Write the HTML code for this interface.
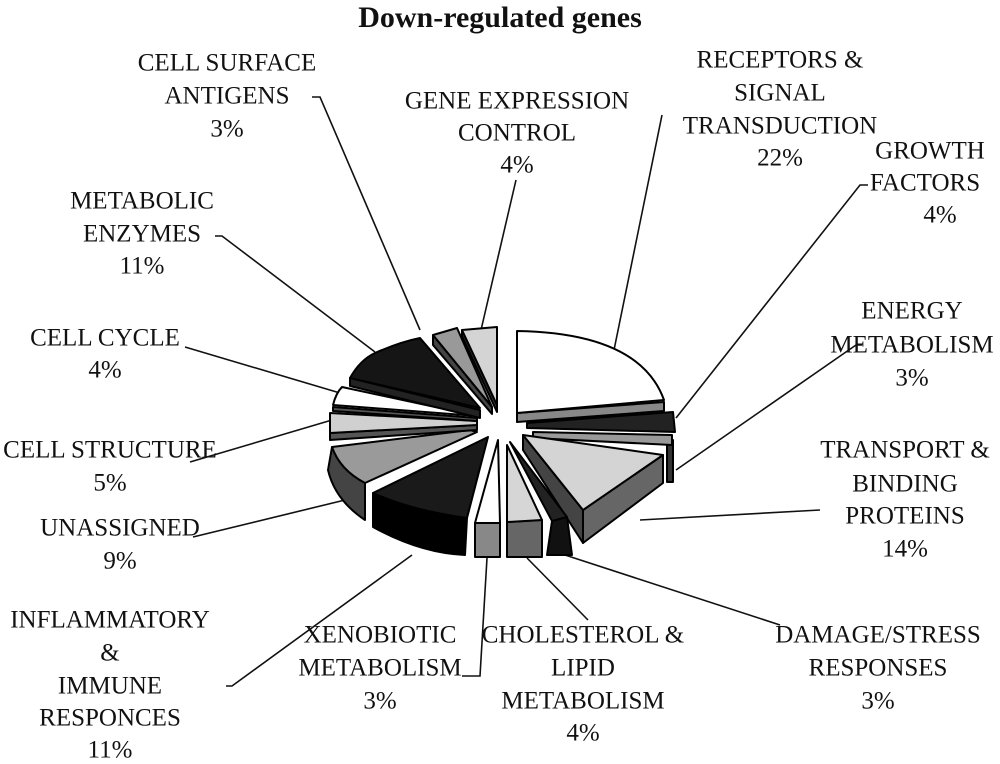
<!DOCTYPE html>
<html><head><meta charset="utf-8"><style>
html,body{margin:0;padding:0;background:#fff;}
svg{display:block;}
text{font-family:"Liberation Serif",serif;font-size:25px;fill:#111;text-anchor:middle;dominant-baseline:middle;}
</style></head><body>
<svg width="1000" height="764" viewBox="0 0 1000 764" xmlns="http://www.w3.org/2000/svg">
<text x="500" y="20" style="font-weight:bold;font-size:30px">Down-regulated genes</text>
<g stroke="#111" stroke-width="1.6" fill="none">
<polyline points="312,97 320,97 420,330"/>
<line x1="516" y1="180" x2="481" y2="330"/>
<line x1="662" y1="115" x2="614" y2="350"/>
<polyline points="868,185 860,185 676,418"/>
<polyline points="215,236 222,236 375,352"/>
<polyline points="862,345 856,345 676,470"/>
<line x1="185" y1="347" x2="340" y2="393"/>
<line x1="190" y1="462" x2="332" y2="420"/>
<line x1="820" y1="510" x2="640" y2="520"/>
<line x1="193" y1="537" x2="345" y2="500"/>
<polyline points="226,686 232,686 412,555"/>
<polyline points="462,676 480,676 487,558"/>
<line x1="588" y1="620" x2="527" y2="558"/>
<line x1="780" y1="625" x2="565" y2="555"/>
</g>
<g stroke="#000" stroke-width="2" stroke-linejoin="round">
<path d="M517,413 L664,402 L664,411 L517,422 Z" fill="#888"/>
<path d="M527,423 L673,412 L675,432 L527,428 Z" fill="#222"/>
<path d="M667,440 L673,440 L673,482 L667,482 Z" fill="#333"/>
<path d="M533,432 L672,435 L672,445 L533,438 Z" fill="#999"/>
<path d="M523,435 L583,510 L583,543 L523,450 Z" fill="#444"/>
<path d="M583,510 L663,455 L663,483 L583,543 Z" fill="#666"/>
<path d="M517,413 L517,331 Q640,333 664,400 Z" fill="#fff"/>
<path d="M523,435 L663,455 L583,510 Z" fill="#d4d4d4"/>
<path d="M552,521 L567,517 L572,555 L547,555 Z" fill="#111"/>
<path d="M510,442 L567,517 L552,521 Z" fill="#222"/>
<path d="M507,522 L542,520 L542,557 L507,557 Z" fill="#666"/>
<path d="M507,445 L542,520 L507,522 Z" fill="#d6d6d6"/>
<path d="M475,523 L500,523 L500,557 L475,557 Z" fill="#888"/>
<path d="M498,440 L500,523 L475,523 Z" fill="#fff"/>
<path d="M373,493 L467,518 L465,555 Q420,553 373,527 Z" fill="#000"/>
<path d="M488,437 L467,518 Q410,510 373,493 Z" fill="#1a1a1a"/>
<path d="M332,447 L365,483 L365,520 Q335,500 328,470 Z" fill="#444"/>
<path d="M477,432 L365,483 Q340,470 332,447 L470,430 Z" fill="#9a9a9a"/>
<path d="M330,433 L477,425 L477,430 L330,440 Z" fill="#555"/>
<path d="M477,425 L330,433 L330,413 L477,421 Z" fill="#d0d0d0"/>
<path d="M333,407 L477,418 L477,421 L333,411 Z" fill="#555"/>
<path d="M477,416 L333,405 Q336,393 342,387 Z" fill="#fff"/>
<path d="M350,378 L480,410 L480,418 L350,386 Z" fill="#222"/>
<path d="M480,408 L350,378 Q360,360 375,353 Q400,342 420,338 Z" fill="#151515"/>
<path d="M492,407 L433,335 L433,345 L492,414 Z" fill="#444"/>
<path d="M492,407 L433,335 L457,328 Z" fill="#999"/>
<path d="M497,405 L462,330 L462,336 L497,412 Z" fill="#333"/>
<path d="M497,405 L462,330 L497,327 Z" fill="#d4d4d4"/>
</g>
<text x="227" y="65">CELL SURFACE</text><text x="227" y="98">ANTIGENS</text><text x="227" y="131">3%</text>
<text x="517" y="103">GENE EXPRESSION</text><text x="517" y="135">CONTROL</text><text x="517" y="167">4%</text>
<text x="780" y="62">RECEPTORS &amp;</text><text x="780" y="95">SIGNAL</text><text x="780" y="128">TRANSDUCTION</text><text x="780" y="160">22%</text>
<text x="930" y="153">GROWTH</text><text x="925" y="185">FACTORS</text><text x="940" y="217">4%</text>
<text x="142" y="203">METABOLIC</text><text x="142" y="236">ENZYMES</text><text x="142" y="268">11%</text>
<text x="912" y="313">ENERGY</text><text x="912" y="347">METABOLISM</text><text x="912" y="380">3%</text>
<text x="105" y="340">CELL CYCLE</text><text x="105" y="372">4%</text>
<text x="110" y="452">CELL STRUCTURE</text><text x="110" y="485">5%</text>
<text x="905" y="452">TRANSPORT &amp;</text><text x="905" y="486">BINDING</text><text x="905" y="518">PROTEINS</text><text x="905" y="551">14%</text>
<text x="120" y="530">UNASSIGNED</text><text x="120" y="563">9%</text>
<text x="110" y="622">INFLAMMATORY</text><text x="110" y="655">&amp;</text><text x="110" y="688">IMMUNE</text><text x="110" y="720">RESPONCES</text><text x="110" y="752">11%</text>
<text x="380" y="637">XENOBIOTIC</text><text x="380" y="670">METABOLISM</text><text x="380" y="703">3%</text>
<text x="583" y="637">CHOLESTEROL &amp;</text><text x="583" y="670">LIPID</text><text x="583" y="703">METABOLISM</text><text x="583" y="735">4%</text>
<text x="878" y="637">DAMAGE/STRESS</text><text x="878" y="670">RESPONSES</text><text x="878" y="703">3%</text>
</svg>
</body></html>
